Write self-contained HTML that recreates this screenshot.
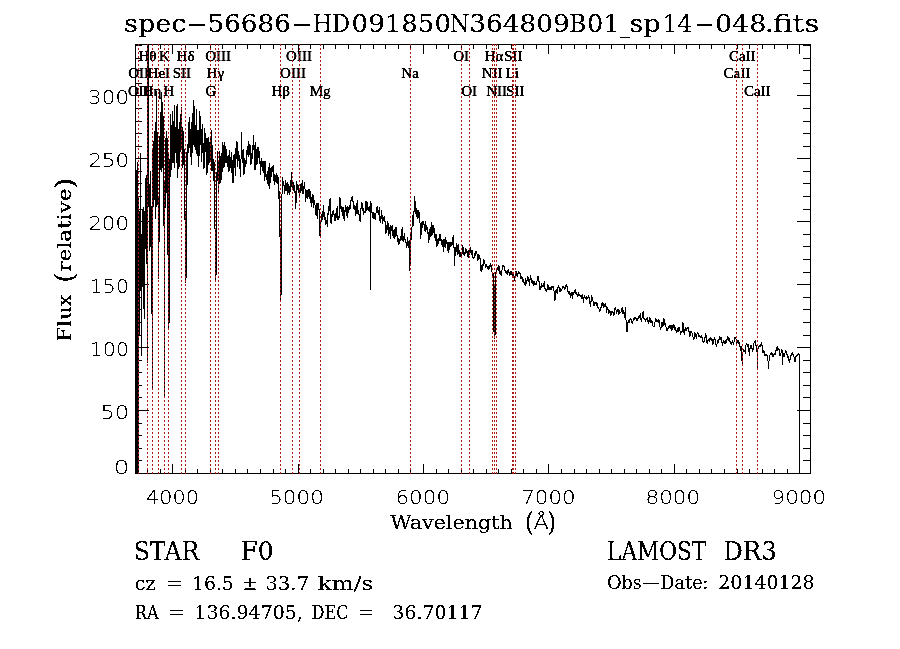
<!DOCTYPE html>
<html lang="en"><head><meta charset="utf-8"><title>spec-56686-HD091850N364809B01_sp14-048.fits</title>
<style>html,body{margin:0;padding:0;background:#fff;overflow:hidden}svg{display:block}.se{font-family:"DejaVu Serif","Liberation Serif",serif;fill:#000}.lb{font-family:"Liberation Serif","DejaVu Serif",serif;font-size:15px;fill:#000;stroke:#000;stroke-width:0.2px;text-anchor:middle}.tk{font-family:"DejaVu Sans Light","DejaVu Sans","Liberation Sans",sans-serif;font-size:19.9px;fill:#000}</style></head><body>
<svg width="900" height="649" viewBox="0 0 900 649">
<rect x="0" y="0" width="900" height="649" fill="#fff"/>
<defs><filter id="t1" filterUnits="userSpaceOnUse" x="0" y="0" width="900" height="649" color-interpolation-filters="sRGB"><feComponentTransfer><feFuncA type="discrete" tableValues="0 0 1 1 1"/></feComponentTransfer></filter><filter id="t2" filterUnits="userSpaceOnUse" x="0" y="0" width="900" height="649" color-interpolation-filters="sRGB"><feComponentTransfer><feFuncA type="linear" slope="2.6" intercept="-0.45"/></feComponentTransfer></filter><clipPath id="cp"><rect x="135" y="44" width="676" height="430"/></clipPath></defs>
<path d="M135.5 44.5H810.5V473.5H135.5ZM147.5 473v-4M147.5 45v4M160.5 473v-4M160.5 45v4M172.5 473v-9M172.5 45v9M185.5 473v-4M185.5 45v4M197.5 473v-4M197.5 45v4M210.5 473v-4M210.5 45v4M222.5 473v-4M222.5 45v4M235.5 473v-4M235.5 45v4M247.5 473v-4M247.5 45v4M260.5 473v-4M260.5 45v4M273.5 473v-4M273.5 45v4M285.5 473v-4M285.5 45v4M298.5 473v-9M298.5 45v9M310.5 473v-4M310.5 45v4M323.5 473v-4M323.5 45v4M335.5 473v-4M335.5 45v4M348.5 473v-4M348.5 45v4M360.5 473v-4M360.5 45v4M373.5 473v-4M373.5 45v4M385.5 473v-4M385.5 45v4M398.5 473v-4M398.5 45v4M410.5 473v-4M410.5 45v4M423.5 473v-9M423.5 45v9M436.5 473v-4M436.5 45v4M448.5 473v-4M448.5 45v4M461.5 473v-4M461.5 45v4M473.5 473v-4M473.5 45v4M486.5 473v-4M486.5 45v4M498.5 473v-4M498.5 45v4M511.5 473v-4M511.5 45v4M523.5 473v-4M523.5 45v4M536.5 473v-4M536.5 45v4M548.5 473v-9M548.5 45v9M561.5 473v-4M561.5 45v4M574.5 473v-4M574.5 45v4M586.5 473v-4M586.5 45v4M599.5 473v-4M599.5 45v4M611.5 473v-4M611.5 45v4M624.5 473v-4M624.5 45v4M636.5 473v-4M636.5 45v4M649.5 473v-4M649.5 45v4M661.5 473v-4M661.5 45v4M674.5 473v-9M674.5 45v9M686.5 473v-4M686.5 45v4M699.5 473v-4M699.5 45v4M711.5 473v-4M711.5 45v4M724.5 473v-4M724.5 45v4M737.5 473v-4M737.5 45v4M749.5 473v-4M749.5 45v4M762.5 473v-4M762.5 45v4M774.5 473v-4M774.5 45v4M787.5 473v-4M787.5 45v4M799.5 473v-9M799.5 45v9M136 473.5H149M810 473.5H797M136 460.5H142M810 460.5H803M136 448.5H142M810 448.5H803M136 435.5H142M810 435.5H803M136 423.5H142M810 423.5H803M136 410.5H149M810 410.5H797M136 397.5H142M810 397.5H803M136 385.5H142M810 385.5H803M136 372.5H142M810 372.5H803M136 360.5H142M810 360.5H803M136 347.5H149M810 347.5H797M136 335.5H142M810 335.5H803M136 322.5H142M810 322.5H803M136 309.5H142M810 309.5H803M136 297.5H142M810 297.5H803M136 284.5H149M810 284.5H797M136 272.5H142M810 272.5H803M136 259.5H142M810 259.5H803M136 246.5H142M810 246.5H803M136 234.5H142M810 234.5H803M136 221.5H149M810 221.5H797M136 209.5H142M810 209.5H803M136 196.5H142M810 196.5H803M136 183.5H142M810 183.5H803M136 171.5H142M810 171.5H803M136 158.5H149M810 158.5H797M136 146.5H142M810 146.5H803M136 133.5H142M810 133.5H803M136 121.5H142M810 121.5H803M136 108.5H142M810 108.5H803M136 95.5H149M810 95.5H797M136 83.5H142M810 83.5H803M136 70.5H142M810 70.5H803M136 58.5H142M810 58.5H803M136 45.5H142M810 45.5H803" fill="none" stroke="#000" stroke-width="1" shape-rendering="crispEdges"/>
<g clip-path="url(#cp)"><polyline points="135.5,473.5 135.5,289.5 135.5,460.5 135.5,184.5 135.5,473.5 135.5,228.5 135.5,443.5 135.5,245.5 135.5,473.5 136.5,208.5 136.5,470.5 136.5,191.5 136.5,473.5 136.5,312.5 136.5,458.5 136.5,169.5 136.5,473.5 136.5,296.5 137.5,458.5 137.5,256.5 137.5,473.5 137.5,279.5 137.5,444.5 137.5,195.5 137.5,473.5 137.5,331.5 137.5,458.5 137.5,162.5 138.5,473.5 138.5,303.5 138.5,281.5 138.5,197.5 138.5,319.5 138.5,223.5 138.5,343.5 138.5,287.5 138.5,321.5 139.5,214.5 139.5,210.5 139.5,308.5 139.5,255.5 139.5,294.5 139.5,252.5 139.5,301.5 139.5,335.5 139.5,333.5 140.5,234.5 140.5,152.5 140.5,238.5 140.5,275.5 140.5,173.5 140.5,250.5 140.5,261.5 140.5,261.5 140.5,283.5 141.5,298.5 141.5,349.5 141.5,285.5 141.5,311.5 141.5,269.5 141.5,316.5 141.5,355.5 141.5,292.5 141.5,234.5 141.5,281.5 142.5,285.5 142.5,286.5 142.5,276.5 142.5,255.5 142.5,276.5 142.5,209.5 142.5,254.5 142.5,244.5 142.5,210.5 143.5,207.5 143.5,250.5 143.5,237.5 143.5,230.5 143.5,260.5 143.5,308.5 143.5,256.5 143.5,260.5 143.5,280.5 144.5,318.5 144.5,298.5 144.5,300.5 144.5,281.5 144.5,228.5 144.5,210.5 144.5,221.5 144.5,218.5 144.5,211.5 145.5,228.5 145.5,230.5 145.5,248.5 145.5,235.5 145.5,177.5 145.5,211.5 145.5,239.5 145.5,238.5 145.5,244.5 146.5,209.5 146.5,204.5 146.5,247.5 146.5,196.5 146.5,223.5 146.5,174.5 146.5,215.5 146.5,181.5 146.5,257.5 147.5,269.5 147.5,267.5 147.5,258.5 147.5,283.5 147.5,362.5 147.5,-55.5 147.5,-55.5 147.5,-55.5 147.5,-55.5 147.5,-55.5 148.5,-55.5 148.5,-55.5 148.5,-55.5 148.5,-55.5 148.5,-55.5 148.5,146.5 148.5,204.5 148.5,206.5 148.5,181.5 149.5,200.5 149.5,225.5 149.5,211.5 149.5,213.5 149.5,186.5 149.5,227.5 149.5,250.5 149.5,183.5 149.5,227.5 150.5,246.5 150.5,170.5 150.5,208.5 150.5,170.5 150.5,206.5 150.5,226.5 150.5,231.5 150.5,208.5 150.5,202.5 151.5,221.5 151.5,205.5 151.5,250.5 151.5,208.5 151.5,280.5 151.5,247.5 151.5,238.5 151.5,243.5 151.5,235.5 152.5,389.5 152.5,265.5 152.5,239.5 152.5,229.5 152.5,269.5 152.5,208.5 152.5,148.5 152.5,242.5 152.5,174.5 153.5,149.5 153.5,201.5 153.5,158.5 153.5,206.5 153.5,198.5 153.5,199.5 153.5,168.5 153.5,176.5 153.5,141.5 154.5,193.5 154.5,165.5 154.5,130.5 154.5,142.5 154.5,199.5 154.5,143.5 154.5,181.5 154.5,158.5 154.5,161.5 155.5,133.5 155.5,163.5 155.5,218.5 155.5,200.5 155.5,137.5 155.5,164.5 155.5,121.5 155.5,143.5 155.5,171.5 156.5,118.5 156.5,172.5 156.5,206.5 156.5,90.5 156.5,202.5 156.5,131.5 156.5,125.5 156.5,150.5 156.5,204.5 157.5,132.5 157.5,200.5 157.5,197.5 157.5,170.5 157.5,140.5 157.5,157.5 157.5,148.5 157.5,188.5 157.5,188.5 158.5,221.5 158.5,208.5 158.5,195.5 158.5,235.5 158.5,233.5 158.5,277.5 158.5,278.5 158.5,269.5 158.5,262.5 159.5,221.5 159.5,209.5 159.5,149.5 159.5,186.5 159.5,176.5 159.5,190.5 159.5,157.5 159.5,136.5 160.5,169.5 160.5,149.5 160.5,128.5 160.5,147.5 160.5,154.5 160.5,114.5 160.5,136.5 160.5,129.5 160.5,112.5 161.5,114.5 161.5,150.5 161.5,151.5 161.5,128.5 161.5,133.5 161.5,171.5 161.5,91.5 161.5,120.5 161.5,105.5 162.5,154.5 162.5,101.5 162.5,148.5 162.5,138.5 162.5,167.5 162.5,137.5 162.5,138.5 162.5,138.5 162.5,126.5 163.5,137.5 163.5,118.5 163.5,150.5 163.5,161.5 163.5,137.5 163.5,123.5 163.5,115.5 163.5,140.5 163.5,225.5 164.5,218.5 164.5,241.5 164.5,315.5 164.5,397.5 164.5,338.5 164.5,334.5 164.5,273.5 164.5,248.5 164.5,184.5 165.5,180.5 165.5,191.5 165.5,156.5 165.5,145.5 165.5,175.5 165.5,170.5 165.5,207.5 165.5,138.5 166.5,165.5 166.5,192.5 166.5,182.5 166.5,149.5 166.5,130.5 166.5,151.5 166.5,144.5 166.5,179.5 166.5,187.5 167.5,145.5 167.5,153.5 167.5,164.5 167.5,139.5 167.5,183.5 167.5,174.5 167.5,148.5 167.5,137.5 167.5,254.5 168.5,153.5 168.5,206.5 168.5,204.5 168.5,234.5 168.5,286.5 168.5,279.5 168.5,289.5 168.5,329.5 168.5,319.5 169.5,322.5 169.5,302.5 169.5,277.5 169.5,233.5 169.5,219.5 169.5,158.5 169.5,166.5 169.5,180.5 170.5,173.5 170.5,113.5 170.5,170.5 170.5,172.5 170.5,153.5 170.5,146.5 170.5,149.5 170.5,164.5 170.5,163.5 171.5,132.5 171.5,142.5 171.5,169.5 171.5,125.5 171.5,130.5 171.5,142.5 171.5,136.5 171.5,124.5 171.5,137.5 172.5,150.5 172.5,130.5 172.5,160.5 172.5,135.5 172.5,162.5 172.5,140.5 172.5,139.5 172.5,111.5 173.5,154.5 173.5,162.5 173.5,153.5 173.5,161.5 173.5,154.5 173.5,139.5 173.5,134.5 173.5,120.5 173.5,154.5 174.5,105.5 174.5,112.5 174.5,140.5 174.5,167.5 174.5,132.5 174.5,130.5 174.5,165.5 174.5,134.5 174.5,141.5 175.5,152.5 175.5,133.5 175.5,126.5 175.5,146.5 175.5,134.5 175.5,144.5 175.5,145.5 175.5,131.5 176.5,124.5 176.5,139.5 176.5,162.5 176.5,123.5 176.5,154.5 176.5,129.5 176.5,105.5 176.5,129.5 176.5,142.5 177.5,142.5 177.5,103.5 177.5,118.5 177.5,111.5 177.5,108.5 177.5,124.5 177.5,131.5 177.5,143.5 177.5,177.5 178.5,160.5 178.5,144.5 178.5,147.5 178.5,139.5 178.5,144.5 178.5,137.5 178.5,128.5 178.5,152.5 179.5,146.5 179.5,166.5 179.5,132.5 179.5,144.5 179.5,137.5 179.5,121.5 179.5,125.5 179.5,139.5 179.5,124.5 180.5,151.5 180.5,122.5 180.5,125.5 180.5,151.5 180.5,113.5 180.5,144.5 180.5,127.5 180.5,140.5 181.5,115.5 181.5,106.5 181.5,132.5 181.5,142.5 181.5,128.5 181.5,120.5 181.5,140.5 181.5,144.5 181.5,127.5 182.5,167.5 182.5,135.5 182.5,145.5 182.5,126.5 182.5,144.5 182.5,152.5 182.5,143.5 182.5,156.5 183.5,135.5 183.5,144.5 183.5,142.5 183.5,149.5 183.5,130.5 183.5,147.5 183.5,141.5 183.5,144.5 183.5,164.5 184.5,149.5 184.5,155.5 184.5,158.5 184.5,172.5 184.5,178.5 184.5,169.5 184.5,160.5 184.5,219.5 185.5,211.5 185.5,243.5 185.5,247.5 185.5,266.5 185.5,262.5 185.5,282.5 185.5,262.5 185.5,248.5 185.5,219.5 186.5,277.5 186.5,200.5 186.5,174.5 186.5,151.5 186.5,207.5 186.5,171.5 186.5,161.5 186.5,165.5 187.5,171.5 187.5,184.5 187.5,177.5 187.5,152.5 187.5,143.5 187.5,151.5 187.5,160.5 187.5,147.5 188.5,150.5 188.5,136.5 188.5,137.5 188.5,143.5 188.5,131.5 188.5,148.5 188.5,124.5 188.5,121.5 188.5,152.5 189.5,131.5 189.5,147.5 189.5,118.5 189.5,118.5 189.5,131.5 189.5,116.5 189.5,135.5 189.5,140.5 190.5,142.5 190.5,138.5 190.5,142.5 190.5,136.5 190.5,146.5 190.5,130.5 190.5,128.5 190.5,149.5 191.5,163.5 191.5,137.5 191.5,132.5 191.5,146.5 191.5,158.5 191.5,137.5 191.5,121.5 191.5,164.5 191.5,137.5 192.5,146.5 192.5,152.5 192.5,133.5 192.5,151.5 192.5,128.5 192.5,112.5 192.5,124.5 192.5,135.5 193.5,144.5 193.5,136.5 193.5,141.5 193.5,99.5 193.5,121.5 193.5,132.5 193.5,138.5 193.5,138.5 194.5,130.5 194.5,141.5 194.5,105.5 194.5,134.5 194.5,136.5 194.5,125.5 194.5,116.5 194.5,122.5 194.5,146.5 195.5,140.5 195.5,143.5 195.5,138.5 195.5,139.5 195.5,149.5 195.5,148.5 195.5,127.5 195.5,140.5 196.5,109.5 196.5,125.5 196.5,140.5 196.5,135.5 196.5,140.5 196.5,137.5 196.5,125.5 196.5,151.5 197.5,155.5 197.5,130.5 197.5,136.5 197.5,134.5 197.5,131.5 197.5,139.5 197.5,129.5 197.5,152.5 197.5,143.5 198.5,155.5 198.5,160.5 198.5,140.5 198.5,139.5 198.5,166.5 198.5,155.5 198.5,139.5 198.5,130.5 199.5,149.5 199.5,142.5 199.5,155.5 199.5,110.5 199.5,133.5 199.5,128.5 199.5,130.5 199.5,125.5 200.5,126.5 200.5,133.5 200.5,119.5 200.5,126.5 200.5,115.5 200.5,141.5 200.5,144.5 200.5,137.5 201.5,135.5 201.5,151.5 201.5,161.5 201.5,153.5 201.5,156.5 201.5,128.5 201.5,137.5 201.5,131.5 202.5,139.5 202.5,146.5 202.5,127.5 202.5,123.5 202.5,137.5 202.5,146.5 202.5,136.5 202.5,152.5 202.5,141.5 203.5,161.5 203.5,168.5 203.5,156.5 203.5,160.5 203.5,142.5 203.5,162.5 203.5,154.5 203.5,163.5 204.5,167.5 204.5,165.5 204.5,140.5 204.5,158.5 204.5,134.5 204.5,131.5 204.5,149.5 204.5,128.5 205.5,142.5 205.5,132.5 205.5,146.5 205.5,133.5 205.5,151.5 205.5,133.5 205.5,144.5 205.5,142.5 206.5,138.5 206.5,148.5 206.5,156.5 206.5,151.5 206.5,151.5 206.5,174.5 206.5,153.5 206.5,151.5 207.5,165.5 207.5,154.5 207.5,172.5 207.5,142.5 207.5,157.5 207.5,152.5 207.5,137.5 207.5,152.5 208.5,146.5 208.5,163.5 208.5,158.5 208.5,164.5 208.5,150.5 208.5,136.5 208.5,145.5 208.5,141.5 209.5,162.5 209.5,161.5 209.5,155.5 209.5,141.5 209.5,142.5 209.5,147.5 209.5,144.5 209.5,154.5 210.5,153.5 210.5,139.5 210.5,156.5 210.5,148.5 210.5,135.5 210.5,153.5 210.5,147.5 210.5,159.5 211.5,130.5 211.5,170.5 211.5,157.5 211.5,156.5 211.5,129.5 211.5,142.5 211.5,149.5 211.5,160.5 212.5,145.5 212.5,150.5 212.5,160.5 212.5,170.5 212.5,168.5 212.5,157.5 212.5,158.5 212.5,161.5 213.5,163.5 213.5,180.5 213.5,164.5 213.5,176.5 213.5,168.5 213.5,165.5 213.5,177.5 213.5,179.5 213.5,159.5 214.5,165.5 214.5,176.5 214.5,201.5 214.5,177.5 214.5,178.5 214.5,185.5 214.5,218.5 215.5,238.5 215.5,257.5 215.5,261.5 215.5,279.5 215.5,270.5 215.5,263.5 215.5,233.5 215.5,233.5 216.5,274.5 216.5,200.5 216.5,192.5 216.5,181.5 216.5,173.5 216.5,198.5 216.5,171.5 216.5,174.5 217.5,180.5 217.5,162.5 217.5,172.5 217.5,160.5 217.5,176.5 217.5,178.5 217.5,159.5 217.5,151.5 218.5,167.5 218.5,167.5 218.5,183.5 218.5,192.5 218.5,183.5 218.5,165.5 218.5,192.5 218.5,175.5 219.5,183.5 219.5,162.5 219.5,153.5 219.5,171.5 219.5,164.5 219.5,150.5 219.5,163.5 219.5,174.5 220.5,175.5 220.5,182.5 220.5,158.5 220.5,171.5 220.5,155.5 220.5,156.5 220.5,168.5 220.5,167.5 221.5,156.5 221.5,161.5 221.5,160.5 221.5,175.5 221.5,152.5 221.5,167.5 221.5,179.5 221.5,166.5 222.5,158.5 222.5,145.5 222.5,164.5 222.5,171.5 222.5,141.5 222.5,156.5 222.5,158.5 222.5,164.5 223.5,163.5 223.5,144.5 223.5,159.5 223.5,163.5 223.5,164.5 223.5,149.5 223.5,167.5 223.5,158.5 224.5,161.5 224.5,160.5 224.5,166.5 224.5,151.5 224.5,141.5 224.5,151.5 224.5,156.5 224.5,159.5 225.5,150.5 225.5,154.5 225.5,153.5 225.5,152.5 225.5,162.5 225.5,145.5 225.5,149.5 226.5,153.5 226.5,153.5 226.5,150.5 226.5,157.5 226.5,162.5 226.5,148.5 226.5,158.5 226.5,159.5 227.5,165.5 227.5,155.5 227.5,163.5 227.5,161.5 227.5,156.5 227.5,161.5 227.5,157.5 227.5,163.5 228.5,169.5 228.5,169.5 228.5,171.5 228.5,164.5 228.5,166.5 228.5,165.5 228.5,154.5 228.5,156.5 229.5,157.5 229.5,161.5 229.5,149.5 229.5,152.5 229.5,157.5 229.5,164.5 229.5,170.5 229.5,169.5 230.5,166.5 230.5,166.5 230.5,163.5 230.5,162.5 230.5,156.5 230.5,157.5 230.5,162.5 231.5,152.5 231.5,152.5 231.5,152.5 231.5,158.5 231.5,159.5 231.5,165.5 231.5,155.5 231.5,172.5 232.5,163.5 232.5,164.5 232.5,159.5 232.5,167.5 232.5,176.5 232.5,182.5 232.5,181.5 232.5,179.5 233.5,181.5 233.5,182.5 233.5,182.5 233.5,176.5 233.5,165.5 233.5,173.5 233.5,164.5 233.5,155.5 234.5,161.5 234.5,167.5 234.5,160.5 234.5,167.5 234.5,163.5 234.5,155.5 234.5,154.5 235.5,175.5 235.5,161.5 235.5,152.5 235.5,163.5 235.5,156.5 235.5,147.5 235.5,156.5 235.5,148.5 236.5,149.5 236.5,158.5 236.5,146.5 236.5,150.5 236.5,145.5 236.5,140.5 236.5,147.5 236.5,151.5 237.5,145.5 237.5,145.5 237.5,141.5 237.5,156.5 237.5,158.5 237.5,166.5 237.5,152.5 238.5,155.5 238.5,157.5 238.5,156.5 238.5,155.5 238.5,158.5 238.5,157.5 238.5,160.5 238.5,151.5 239.5,158.5 239.5,165.5 239.5,164.5 239.5,155.5 239.5,161.5 239.5,164.5 239.5,164.5 239.5,161.5 240.5,176.5 240.5,172.5 240.5,175.5 240.5,160.5 240.5,163.5 240.5,164.5 240.5,164.5 241.5,154.5 241.5,155.5 241.5,152.5 241.5,139.5 241.5,149.5 241.5,150.5 241.5,131.5 241.5,149.5 242.5,151.5 242.5,154.5 242.5,153.5 242.5,151.5 242.5,154.5 242.5,155.5 242.5,158.5 242.5,162.5 243.5,152.5 243.5,148.5 243.5,156.5 243.5,168.5 243.5,166.5 243.5,174.5 243.5,170.5 244.5,173.5 244.5,165.5 244.5,162.5 244.5,164.5 244.5,161.5 244.5,157.5 244.5,160.5 244.5,167.5 245.5,166.5 245.5,163.5 245.5,164.5 245.5,160.5 245.5,160.5 245.5,162.5 245.5,161.5 246.5,159.5 246.5,158.5 246.5,161.5 246.5,149.5 246.5,153.5 246.5,163.5 246.5,162.5 246.5,158.5 247.5,152.5 247.5,145.5 247.5,146.5 247.5,148.5 247.5,150.5 247.5,150.5 247.5,149.5 248.5,148.5 248.5,148.5 248.5,155.5 248.5,147.5 248.5,140.5 248.5,154.5 248.5,156.5 248.5,148.5 249.5,152.5 249.5,154.5 249.5,143.5 249.5,146.5 249.5,144.5 249.5,150.5 249.5,144.5 250.5,146.5 250.5,145.5 250.5,146.5 250.5,148.5 250.5,155.5 250.5,154.5 250.5,164.5 250.5,157.5 251.5,157.5 251.5,163.5 251.5,163.5 251.5,158.5 251.5,162.5 251.5,153.5 251.5,153.5 252.5,158.5 252.5,153.5 252.5,147.5 252.5,145.5 252.5,144.5 252.5,148.5 252.5,149.5 252.5,149.5 253.5,144.5 253.5,134.5 253.5,137.5 253.5,134.5 253.5,134.5 253.5,149.5 253.5,145.5 254.5,149.5 254.5,144.5 254.5,146.5 254.5,160.5 254.5,158.5 254.5,158.5 254.5,166.5 254.5,169.5 255.5,169.5 255.5,159.5 255.5,164.5 255.5,150.5 255.5,151.5 255.5,145.5 255.5,142.5 256.5,155.5 256.5,159.5 256.5,156.5 256.5,164.5 256.5,162.5 256.5,156.5 256.5,152.5 256.5,157.5 257.5,152.5 257.5,148.5 257.5,146.5 257.5,163.5 257.5,149.5 257.5,151.5 257.5,158.5 258.5,157.5 258.5,146.5 258.5,150.5 258.5,148.5 258.5,147.5 258.5,156.5 258.5,155.5 259.5,154.5 259.5,153.5 259.5,150.5 259.5,152.5 259.5,159.5 259.5,163.5 259.5,152.5 259.5,162.5 260.5,165.5 260.5,174.5 260.5,167.5 260.5,174.5 260.5,170.5 260.5,171.5 260.5,164.5 261.5,158.5 261.5,163.5 261.5,160.5 261.5,157.5 261.5,163.5 261.5,164.5 261.5,164.5 262.5,169.5 262.5,162.5 262.5,169.5 262.5,161.5 262.5,160.5 262.5,170.5 262.5,166.5 262.5,169.5 263.5,172.5 263.5,168.5 263.5,166.5 263.5,161.5 263.5,160.5 263.5,170.5 263.5,168.5 264.5,166.5 264.5,164.5 264.5,180.5 264.5,164.5 264.5,169.5 264.5,160.5 264.5,166.5 265.5,168.5 265.5,164.5 265.5,160.5 265.5,165.5 265.5,176.5 265.5,163.5 265.5,174.5 265.5,173.5 266.5,175.5 266.5,179.5 266.5,176.5 266.5,174.5 266.5,173.5 266.5,173.5 266.5,176.5 267.5,183.5 267.5,177.5 267.5,172.5 267.5,171.5 267.5,174.5 267.5,173.5 267.5,172.5 268.5,170.5 268.5,168.5 268.5,176.5 268.5,174.5 268.5,166.5 268.5,167.5 268.5,168.5 268.5,185.5 269.5,176.5 269.5,188.5 269.5,170.5 269.5,171.5 269.5,170.5 269.5,169.5 269.5,163.5 270.5,171.5 270.5,168.5 270.5,172.5 270.5,176.5 270.5,177.5 270.5,178.5 270.5,182.5 271.5,172.5 271.5,170.5 271.5,172.5 271.5,168.5 271.5,166.5 271.5,174.5 271.5,168.5 272.5,169.5 272.5,170.5 272.5,165.5 272.5,171.5 272.5,170.5 272.5,168.5 272.5,169.5 272.5,170.5 273.5,165.5 273.5,178.5 273.5,175.5 273.5,180.5 273.5,173.5 273.5,170.5 273.5,171.5 274.5,180.5 274.5,180.5 274.5,176.5 274.5,182.5 274.5,178.5 274.5,184.5 274.5,174.5 275.5,175.5 275.5,176.5 275.5,181.5 275.5,178.5 275.5,176.5 275.5,176.5 275.5,178.5 276.5,180.5 276.5,178.5 276.5,172.5 276.5,182.5 276.5,177.5 276.5,176.5 276.5,173.5 277.5,180.5 277.5,174.5 277.5,179.5 277.5,181.5 277.5,183.5 277.5,180.5 277.5,179.5 278.5,177.5 278.5,181.5 278.5,177.5 278.5,186.5 278.5,179.5 278.5,198.5 278.5,192.5 278.5,196.5 279.5,191.5 279.5,202.5 279.5,192.5 279.5,208.5 279.5,199.5 279.5,210.5 279.5,236.5 280.5,230.5 280.5,243.5 280.5,270.5 280.5,299.5 280.5,301.5 280.5,299.5 280.5,286.5 281.5,294.5 281.5,234.5 281.5,211.5 281.5,201.5 281.5,199.5 281.5,193.5 281.5,197.5 282.5,191.5 282.5,190.5 282.5,186.5 282.5,176.5 282.5,180.5 282.5,183.5 282.5,180.5 283.5,182.5 283.5,180.5 283.5,180.5 283.5,180.5 283.5,181.5 283.5,185.5 283.5,184.5 284.5,185.5 284.5,193.5 284.5,192.5 284.5,191.5 284.5,186.5 284.5,184.5 284.5,188.5 285.5,185.5 285.5,190.5 285.5,189.5 285.5,184.5 285.5,181.5 285.5,179.5 285.5,183.5 286.5,187.5 286.5,182.5 286.5,185.5 286.5,185.5 286.5,188.5 286.5,189.5 286.5,190.5 287.5,190.5 287.5,194.5 287.5,187.5 287.5,190.5 287.5,187.5 287.5,181.5 287.5,187.5 288.5,192.5 288.5,183.5 288.5,184.5 288.5,183.5 288.5,185.5 288.5,184.5 288.5,187.5 288.5,191.5 289.5,186.5 289.5,193.5 289.5,194.5 289.5,194.5 289.5,186.5 289.5,188.5 289.5,191.5 290.5,188.5 290.5,186.5 290.5,184.5 290.5,191.5 290.5,181.5 290.5,182.5 290.5,181.5 291.5,178.5 291.5,174.5 291.5,171.5 291.5,178.5 291.5,180.5 291.5,186.5 291.5,183.5 292.5,182.5 292.5,188.5 292.5,184.5 292.5,179.5 292.5,188.5 292.5,185.5 292.5,183.5 293.5,190.5 293.5,186.5 293.5,184.5 293.5,181.5 293.5,188.5 293.5,183.5 293.5,187.5 294.5,185.5 294.5,186.5 294.5,188.5 294.5,187.5 294.5,192.5 294.5,190.5 295.5,191.5 295.5,191.5 295.5,191.5 295.5,204.5 295.5,203.5 295.5,207.5 295.5,208.5 296.5,197.5 296.5,198.5 296.5,192.5 296.5,191.5 296.5,194.5 296.5,194.5 296.5,181.5 297.5,187.5 297.5,189.5 297.5,184.5 297.5,186.5 297.5,188.5 297.5,186.5 297.5,184.5 298.5,185.5 298.5,185.5 298.5,190.5 298.5,192.5 298.5,189.5 298.5,189.5 298.5,186.5 299.5,189.5 299.5,190.5 299.5,194.5 299.5,189.5 299.5,197.5 299.5,191.5 299.5,192.5 300.5,186.5 300.5,184.5 300.5,190.5 300.5,187.5 300.5,192.5 300.5,183.5 300.5,188.5 301.5,190.5 301.5,188.5 301.5,183.5 301.5,183.5 301.5,184.5 301.5,189.5 301.5,186.5 302.5,180.5 302.5,185.5 302.5,185.5 302.5,189.5 302.5,193.5 302.5,189.5 302.5,192.5 303.5,193.5 303.5,192.5 303.5,190.5 303.5,187.5 303.5,190.5 303.5,190.5 303.5,189.5 304.5,182.5 304.5,184.5 304.5,185.5 304.5,181.5 304.5,182.5 304.5,182.5 304.5,185.5 305.5,192.5 305.5,196.5 305.5,198.5 305.5,201.5 305.5,198.5 305.5,195.5 306.5,194.5 306.5,197.5 306.5,195.5 306.5,189.5 306.5,196.5 306.5,193.5 306.5,194.5 307.5,197.5 307.5,198.5 307.5,195.5 307.5,196.5 307.5,192.5 307.5,189.5 307.5,190.5 308.5,189.5 308.5,190.5 308.5,194.5 308.5,192.5 308.5,194.5 308.5,196.5 308.5,193.5 309.5,193.5 309.5,194.5 309.5,198.5 309.5,190.5 309.5,189.5 309.5,188.5 309.5,189.5 310.5,193.5 310.5,191.5 310.5,195.5 310.5,190.5 310.5,199.5 310.5,199.5 311.5,206.5 311.5,206.5 311.5,204.5 311.5,199.5 311.5,197.5 311.5,196.5 311.5,201.5 312.5,194.5 312.5,200.5 312.5,193.5 312.5,193.5 312.5,195.5 312.5,195.5 312.5,202.5 313.5,195.5 313.5,203.5 313.5,202.5 313.5,207.5 313.5,204.5 313.5,206.5 313.5,203.5 314.5,201.5 314.5,201.5 314.5,199.5 314.5,201.5 314.5,202.5 314.5,204.5 314.5,200.5 315.5,208.5 315.5,205.5 315.5,214.5 315.5,213.5 315.5,211.5 315.5,214.5 316.5,206.5 316.5,207.5 316.5,215.5 316.5,212.5 316.5,207.5 316.5,202.5 316.5,204.5 317.5,208.5 317.5,214.5 317.5,214.5 317.5,218.5 317.5,213.5 317.5,206.5 317.5,203.5 318.5,206.5 318.5,204.5 318.5,202.5 318.5,207.5 318.5,209.5 318.5,208.5 319.5,210.5 319.5,214.5 319.5,219.5 319.5,223.5 319.5,226.5 319.5,233.5 319.5,233.5 320.5,237.5 320.5,237.5 320.5,234.5 320.5,231.5 320.5,228.5 320.5,226.5 320.5,225.5 321.5,217.5 321.5,221.5 321.5,219.5 321.5,218.5 321.5,215.5 321.5,215.5 322.5,213.5 322.5,216.5 322.5,219.5 322.5,215.5 322.5,214.5 322.5,215.5 322.5,213.5 323.5,209.5 323.5,204.5 323.5,206.5 323.5,210.5 323.5,210.5 323.5,211.5 323.5,216.5 324.5,212.5 324.5,217.5 324.5,215.5 324.5,217.5 324.5,219.5 324.5,215.5 325.5,219.5 325.5,219.5 325.5,218.5 325.5,218.5 325.5,221.5 325.5,224.5 325.5,221.5 326.5,221.5 326.5,219.5 326.5,223.5 326.5,222.5 326.5,222.5 326.5,223.5 326.5,220.5 327.5,220.5 327.5,226.5 327.5,226.5 327.5,225.5 327.5,215.5 327.5,215.5 328.5,210.5 328.5,211.5 328.5,209.5 328.5,210.5 328.5,214.5 328.5,208.5 328.5,206.5 329.5,210.5 329.5,205.5 329.5,205.5 329.5,204.5 329.5,201.5 329.5,204.5 329.5,199.5 330.5,198.5 330.5,207.5 330.5,210.5 330.5,212.5 330.5,219.5 330.5,222.5 331.5,223.5 331.5,220.5 331.5,219.5 331.5,216.5 331.5,219.5 331.5,213.5 331.5,216.5 332.5,214.5 332.5,216.5 332.5,216.5 332.5,213.5 332.5,213.5 332.5,211.5 333.5,210.5 333.5,210.5 333.5,212.5 333.5,213.5 333.5,213.5 333.5,211.5 333.5,212.5 334.5,216.5 334.5,217.5 334.5,219.5 334.5,216.5 334.5,213.5 334.5,220.5 335.5,213.5 335.5,214.5 335.5,217.5 335.5,212.5 335.5,215.5 335.5,215.5 335.5,220.5 336.5,214.5 336.5,217.5 336.5,216.5 336.5,210.5 336.5,211.5 336.5,209.5 337.5,207.5 337.5,213.5 337.5,205.5 337.5,210.5 337.5,211.5 337.5,213.5 337.5,219.5 338.5,217.5 338.5,216.5 338.5,217.5 338.5,215.5 338.5,219.5 338.5,218.5 339.5,217.5 339.5,211.5 339.5,200.5 339.5,204.5 339.5,202.5 339.5,200.5 339.5,197.5 340.5,198.5 340.5,202.5 340.5,198.5 340.5,201.5 340.5,200.5 340.5,208.5 341.5,209.5 341.5,206.5 341.5,211.5 341.5,206.5 341.5,205.5 341.5,205.5 341.5,206.5 342.5,209.5 342.5,212.5 342.5,215.5 342.5,213.5 342.5,206.5 342.5,208.5 343.5,207.5 343.5,207.5 343.5,211.5 343.5,210.5 343.5,213.5 343.5,212.5 343.5,216.5 344.5,220.5 344.5,216.5 344.5,213.5 344.5,209.5 344.5,211.5 344.5,213.5 345.5,210.5 345.5,209.5 345.5,206.5 345.5,206.5 345.5,208.5 345.5,204.5 345.5,206.5 346.5,208.5 346.5,209.5 346.5,207.5 346.5,212.5 346.5,215.5 346.5,213.5 347.5,217.5 347.5,210.5 347.5,210.5 347.5,209.5 347.5,207.5 347.5,205.5 347.5,212.5 348.5,210.5 348.5,211.5 348.5,212.5 348.5,206.5 348.5,208.5 348.5,209.5 349.5,209.5 349.5,209.5 349.5,207.5 349.5,209.5 349.5,204.5 349.5,207.5 350.5,208.5 350.5,207.5 350.5,203.5 350.5,206.5 350.5,206.5 350.5,203.5 350.5,200.5 351.5,200.5 351.5,199.5 351.5,198.5 351.5,200.5 351.5,196.5 351.5,199.5 352.5,196.5 352.5,199.5 352.5,201.5 352.5,201.5 352.5,201.5 352.5,201.5 352.5,200.5 353.5,202.5 353.5,204.5 353.5,202.5 353.5,202.5 353.5,204.5 353.5,208.5 354.5,207.5 354.5,209.5 354.5,207.5 354.5,209.5 354.5,208.5 354.5,205.5 355.5,207.5 355.5,205.5 355.5,210.5 355.5,211.5 355.5,211.5 355.5,212.5 355.5,215.5 356.5,212.5 356.5,213.5 356.5,207.5 356.5,205.5 356.5,207.5 356.5,203.5 357.5,203.5 357.5,199.5 357.5,201.5 357.5,201.5 357.5,203.5 357.5,213.5 358.5,214.5 358.5,212.5 358.5,212.5 358.5,209.5 358.5,210.5 358.5,214.5 358.5,212.5 359.5,215.5 359.5,215.5 359.5,215.5 359.5,214.5 359.5,218.5 359.5,219.5 360.5,221.5 360.5,212.5 360.5,216.5 360.5,213.5 360.5,212.5 360.5,209.5 361.5,207.5 361.5,204.5 361.5,204.5 361.5,203.5 361.5,204.5 361.5,203.5 361.5,202.5 362.5,205.5 362.5,205.5 362.5,210.5 362.5,205.5 362.5,205.5 362.5,203.5 363.5,212.5 363.5,208.5 363.5,210.5 363.5,212.5 363.5,214.5 363.5,213.5 364.5,212.5 364.5,211.5 364.5,211.5 364.5,210.5 364.5,211.5 364.5,211.5 365.5,212.5 365.5,212.5 365.5,203.5 365.5,205.5 365.5,200.5 365.5,202.5 365.5,202.5 366.5,207.5 366.5,207.5 366.5,210.5 366.5,210.5 366.5,205.5 366.5,201.5 367.5,202.5 367.5,202.5 367.5,205.5 367.5,205.5 367.5,206.5 367.5,209.5 368.5,207.5 368.5,209.5 368.5,208.5 368.5,209.5 368.5,210.5 368.5,209.5 369.5,209.5 369.5,208.5 369.5,210.5 369.5,208.5 369.5,207.5 369.5,211.5 369.5,206.5 370.5,207.5 370.5,234.5 370.5,289.5 370.5,203.5 370.5,205.5 370.5,201.5 371.5,204.5 371.5,209.5 371.5,205.5 371.5,209.5 371.5,211.5 371.5,212.5 372.5,213.5 372.5,212.5 372.5,211.5 372.5,212.5 372.5,215.5 372.5,217.5 373.5,216.5 373.5,213.5 373.5,212.5 373.5,211.5 373.5,218.5 373.5,216.5 374.5,218.5 374.5,218.5 374.5,215.5 374.5,213.5 374.5,212.5 374.5,213.5 375.5,213.5 375.5,214.5 375.5,215.5 375.5,219.5 375.5,219.5 375.5,216.5 375.5,215.5 376.5,210.5 376.5,212.5 376.5,209.5 376.5,211.5 376.5,209.5 376.5,208.5 377.5,206.5 377.5,210.5 377.5,208.5 377.5,212.5 377.5,211.5 377.5,210.5 378.5,211.5 378.5,210.5 378.5,210.5 378.5,214.5 378.5,210.5 378.5,213.5 379.5,207.5 379.5,210.5 379.5,212.5 379.5,215.5 379.5,217.5 379.5,219.5 380.5,222.5 380.5,220.5 380.5,221.5 380.5,218.5 380.5,219.5 380.5,216.5 381.5,218.5 381.5,209.5 381.5,218.5 381.5,217.5 381.5,215.5 381.5,213.5 382.5,217.5 382.5,219.5 382.5,220.5 382.5,222.5 382.5,223.5 382.5,222.5 382.5,219.5 383.5,217.5 383.5,220.5 383.5,218.5 383.5,218.5 383.5,217.5 383.5,219.5 384.5,219.5 384.5,215.5 384.5,215.5 384.5,220.5 384.5,217.5 384.5,219.5 385.5,223.5 385.5,225.5 385.5,224.5 385.5,225.5 385.5,226.5 385.5,233.5 386.5,225.5 386.5,225.5 386.5,230.5 386.5,232.5 386.5,230.5 386.5,230.5 387.5,229.5 387.5,229.5 387.5,229.5 387.5,229.5 387.5,222.5 387.5,221.5 388.5,225.5 388.5,226.5 388.5,229.5 388.5,232.5 388.5,235.5 388.5,231.5 389.5,233.5 389.5,226.5 389.5,228.5 389.5,226.5 389.5,230.5 389.5,231.5 390.5,236.5 390.5,236.5 390.5,238.5 390.5,235.5 390.5,228.5 390.5,225.5 391.5,226.5 391.5,225.5 391.5,229.5 391.5,228.5 391.5,230.5 391.5,230.5 392.5,225.5 392.5,230.5 392.5,230.5 392.5,230.5 392.5,233.5 392.5,235.5 393.5,233.5 393.5,232.5 393.5,237.5 393.5,229.5 393.5,229.5 393.5,230.5 394.5,229.5 394.5,235.5 394.5,235.5 394.5,238.5 394.5,237.5 394.5,234.5 395.5,236.5 395.5,234.5 395.5,235.5 395.5,233.5 395.5,228.5 395.5,227.5 396.5,230.5 396.5,232.5 396.5,226.5 396.5,233.5 396.5,235.5 396.5,233.5 397.5,236.5 397.5,236.5 397.5,235.5 397.5,237.5 397.5,241.5 397.5,239.5 398.5,243.5 398.5,244.5 398.5,243.5 398.5,242.5 398.5,239.5 398.5,238.5 399.5,240.5 399.5,238.5 399.5,241.5 399.5,243.5 399.5,242.5 399.5,239.5 400.5,240.5 400.5,237.5 400.5,235.5 400.5,238.5 400.5,239.5 400.5,240.5 401.5,238.5 401.5,236.5 401.5,234.5 401.5,239.5 401.5,232.5 401.5,231.5 402.5,227.5 402.5,233.5 402.5,236.5 402.5,240.5 402.5,238.5 402.5,239.5 403.5,239.5 403.5,239.5 403.5,241.5 403.5,239.5 403.5,238.5 403.5,236.5 404.5,236.5 404.5,232.5 404.5,232.5 404.5,237.5 404.5,235.5 404.5,239.5 405.5,240.5 405.5,240.5 405.5,242.5 405.5,239.5 405.5,238.5 405.5,241.5 406.5,243.5 406.5,243.5 406.5,244.5 406.5,244.5 406.5,247.5 406.5,244.5 407.5,245.5 407.5,241.5 407.5,238.5 407.5,236.5 407.5,240.5 408.5,242.5 408.5,244.5 408.5,243.5 408.5,246.5 408.5,247.5 408.5,244.5 409.5,244.5 409.5,240.5 409.5,239.5 409.5,248.5 409.5,253.5 409.5,270.5 410.5,259.5 410.5,257.5 410.5,252.5 410.5,247.5 410.5,231.5 410.5,240.5 411.5,238.5 411.5,232.5 411.5,229.5 411.5,228.5 411.5,228.5 411.5,230.5 412.5,223.5 412.5,223.5 412.5,226.5 412.5,214.5 412.5,221.5 412.5,216.5 413.5,225.5 413.5,223.5 413.5,220.5 413.5,218.5 413.5,210.5 413.5,216.5 414.5,207.5 414.5,210.5 414.5,203.5 414.5,203.5 414.5,205.5 414.5,196.5 415.5,204.5 415.5,203.5 415.5,213.5 415.5,204.5 415.5,209.5 416.5,208.5 416.5,207.5 416.5,208.5 416.5,216.5 416.5,209.5 416.5,213.5 417.5,213.5 417.5,211.5 417.5,209.5 417.5,216.5 417.5,216.5 417.5,218.5 418.5,217.5 418.5,216.5 418.5,217.5 418.5,215.5 418.5,213.5 418.5,210.5 419.5,214.5 419.5,212.5 419.5,222.5 419.5,217.5 419.5,217.5 419.5,218.5 420.5,227.5 420.5,233.5 420.5,238.5 420.5,235.5 420.5,228.5 421.5,233.5 421.5,234.5 421.5,227.5 421.5,225.5 421.5,222.5 421.5,222.5 422.5,225.5 422.5,223.5 422.5,220.5 422.5,222.5 422.5,220.5 422.5,227.5 423.5,221.5 423.5,224.5 423.5,223.5 423.5,220.5 423.5,224.5 423.5,223.5 424.5,224.5 424.5,226.5 424.5,227.5 424.5,226.5 424.5,228.5 424.5,230.5 425.5,221.5 425.5,227.5 425.5,225.5 425.5,228.5 425.5,231.5 426.5,227.5 426.5,225.5 426.5,224.5 426.5,227.5 426.5,226.5 426.5,227.5 427.5,229.5 427.5,232.5 427.5,231.5 427.5,231.5 427.5,233.5 427.5,227.5 428.5,235.5 428.5,233.5 428.5,234.5 428.5,242.5 428.5,235.5 429.5,239.5 429.5,237.5 429.5,237.5 429.5,238.5 429.5,232.5 429.5,230.5 430.5,227.5 430.5,229.5 430.5,236.5 430.5,230.5 430.5,232.5 430.5,232.5 431.5,233.5 431.5,235.5 431.5,230.5 431.5,231.5 431.5,221.5 431.5,229.5 432.5,231.5 432.5,228.5 432.5,224.5 432.5,229.5 432.5,234.5 433.5,225.5 433.5,228.5 433.5,231.5 433.5,228.5 433.5,232.5 433.5,232.5 434.5,228.5 434.5,233.5 434.5,232.5 434.5,235.5 434.5,233.5 434.5,235.5 435.5,240.5 435.5,233.5 435.5,236.5 435.5,233.5 435.5,236.5 436.5,234.5 436.5,240.5 436.5,246.5 436.5,244.5 436.5,243.5 436.5,245.5 437.5,245.5 437.5,239.5 437.5,242.5 437.5,238.5 437.5,240.5 437.5,244.5 438.5,242.5 438.5,239.5 438.5,237.5 438.5,238.5 438.5,239.5 439.5,239.5 439.5,238.5 439.5,240.5 439.5,239.5 439.5,233.5 439.5,237.5 440.5,240.5 440.5,238.5 440.5,233.5 440.5,235.5 440.5,236.5 440.5,239.5 441.5,241.5 441.5,238.5 441.5,239.5 441.5,244.5 441.5,244.5 442.5,240.5 442.5,245.5 442.5,244.5 442.5,240.5 442.5,241.5 442.5,245.5 443.5,247.5 443.5,249.5 443.5,250.5 443.5,251.5 443.5,241.5 443.5,239.5 444.5,239.5 444.5,243.5 444.5,240.5 444.5,246.5 444.5,242.5 445.5,247.5 445.5,241.5 445.5,238.5 445.5,240.5 445.5,236.5 445.5,240.5 446.5,240.5 446.5,242.5 446.5,241.5 446.5,243.5 446.5,242.5 447.5,242.5 447.5,246.5 447.5,250.5 447.5,246.5 447.5,244.5 447.5,246.5 448.5,246.5 448.5,244.5 448.5,243.5 448.5,252.5 448.5,242.5 448.5,242.5 449.5,242.5 449.5,244.5 449.5,242.5 449.5,243.5 449.5,249.5 450.5,244.5 450.5,246.5 450.5,241.5 450.5,242.5 450.5,243.5 450.5,243.5 451.5,242.5 451.5,243.5 451.5,241.5 451.5,244.5 451.5,245.5 452.5,243.5 452.5,244.5 452.5,242.5 452.5,238.5 452.5,241.5 452.5,239.5 453.5,235.5 453.5,238.5 453.5,238.5 453.5,242.5 453.5,245.5 454.5,249.5 454.5,251.5 454.5,259.5 454.5,265.5 454.5,259.5 454.5,255.5 455.5,252.5 455.5,255.5 455.5,251.5 455.5,246.5 455.5,252.5 455.5,249.5 456.5,250.5 456.5,251.5 456.5,248.5 456.5,244.5 456.5,243.5 457.5,248.5 457.5,248.5 457.5,250.5 457.5,254.5 457.5,248.5 457.5,245.5 458.5,244.5 458.5,249.5 458.5,246.5 458.5,249.5 458.5,253.5 459.5,253.5 459.5,254.5 459.5,252.5 459.5,249.5 459.5,255.5 459.5,256.5 460.5,252.5 460.5,253.5 460.5,256.5 460.5,254.5 460.5,254.5 461.5,255.5 461.5,254.5 461.5,254.5 461.5,256.5 461.5,255.5 461.5,256.5 462.5,251.5 462.5,249.5 462.5,251.5 462.5,251.5 462.5,245.5 463.5,248.5 463.5,252.5 463.5,254.5 463.5,251.5 463.5,249.5 463.5,253.5 464.5,253.5 464.5,254.5 464.5,252.5 464.5,251.5 464.5,255.5 465.5,252.5 465.5,251.5 465.5,251.5 465.5,252.5 465.5,248.5 466.5,250.5 466.5,250.5 466.5,249.5 466.5,252.5 466.5,250.5 466.5,252.5 467.5,252.5 467.5,251.5 467.5,253.5 467.5,256.5 467.5,251.5 468.5,254.5 468.5,256.5 468.5,257.5 468.5,253.5 468.5,251.5 468.5,250.5 469.5,250.5 469.5,253.5 469.5,250.5 469.5,254.5 469.5,251.5 470.5,249.5 470.5,252.5 470.5,251.5 470.5,250.5 470.5,250.5 470.5,247.5 471.5,253.5 471.5,249.5 471.5,254.5 471.5,252.5 471.5,252.5 472.5,250.5 472.5,252.5 472.5,251.5 472.5,254.5 472.5,252.5 472.5,257.5 473.5,258.5 473.5,257.5 473.5,256.5 473.5,257.5 473.5,258.5 474.5,256.5 474.5,254.5 474.5,252.5 474.5,253.5 474.5,254.5 475.5,253.5 475.5,255.5 475.5,254.5 475.5,252.5 475.5,252.5 475.5,251.5 476.5,253.5 476.5,251.5 476.5,253.5 476.5,250.5 476.5,252.5 477.5,255.5 477.5,255.5 477.5,255.5 477.5,260.5 477.5,259.5 477.5,256.5 478.5,257.5 478.5,257.5 478.5,259.5 478.5,253.5 478.5,254.5 479.5,255.5 479.5,258.5 479.5,255.5 479.5,254.5 479.5,257.5 480.5,258.5 480.5,260.5 480.5,261.5 480.5,265.5 480.5,267.5 480.5,270.5 481.5,271.5 481.5,266.5 481.5,264.5 481.5,266.5 481.5,265.5 482.5,269.5 482.5,269.5 482.5,269.5 482.5,269.5 482.5,264.5 483.5,265.5 483.5,262.5 483.5,260.5 483.5,260.5 483.5,258.5 483.5,264.5 484.5,260.5 484.5,262.5 484.5,263.5 484.5,262.5 484.5,261.5 485.5,266.5 485.5,266.5 485.5,267.5 485.5,267.5 485.5,267.5 486.5,266.5 486.5,263.5 486.5,265.5 486.5,263.5 486.5,264.5 486.5,266.5 487.5,266.5 487.5,267.5 487.5,268.5 487.5,266.5 487.5,267.5 488.5,266.5 488.5,269.5 488.5,265.5 488.5,268.5 488.5,267.5 489.5,265.5 489.5,264.5 489.5,267.5 489.5,268.5 489.5,265.5 489.5,266.5 490.5,264.5 490.5,266.5 490.5,263.5 490.5,262.5 490.5,266.5 491.5,265.5 491.5,265.5 491.5,265.5 491.5,271.5 491.5,270.5 492.5,273.5 492.5,274.5 492.5,272.5 492.5,275.5 492.5,274.5 492.5,274.5 493.5,273.5 493.5,279.5 493.5,291.5 493.5,306.5 493.5,324.5 494.5,338.5 494.5,326.5 494.5,310.5 494.5,291.5 494.5,286.5 495.5,334.5 495.5,276.5 495.5,275.5 495.5,271.5 495.5,272.5 496.5,271.5 496.5,273.5 496.5,273.5 496.5,270.5 496.5,270.5 496.5,269.5 497.5,267.5 497.5,269.5 497.5,268.5 497.5,266.5 497.5,268.5 498.5,267.5 498.5,270.5 498.5,267.5 498.5,268.5 498.5,265.5 499.5,266.5 499.5,267.5 499.5,267.5 499.5,270.5 499.5,273.5 500.5,271.5 500.5,273.5 500.5,272.5 500.5,273.5 500.5,272.5 500.5,274.5 501.5,275.5 501.5,275.5 501.5,270.5 501.5,272.5 501.5,270.5 502.5,269.5 502.5,266.5 502.5,266.5 502.5,267.5 502.5,265.5 503.5,266.5 503.5,265.5 503.5,265.5 503.5,266.5 503.5,265.5 504.5,266.5 504.5,265.5 504.5,266.5 504.5,268.5 504.5,268.5 504.5,270.5 505.5,270.5 505.5,271.5 505.5,272.5 505.5,271.5 505.5,271.5 506.5,271.5 506.5,272.5 506.5,273.5 506.5,273.5 506.5,272.5 507.5,274.5 507.5,272.5 507.5,269.5 507.5,270.5 507.5,273.5 508.5,270.5 508.5,270.5 508.5,272.5 508.5,268.5 508.5,271.5 509.5,273.5 509.5,275.5 509.5,274.5 509.5,274.5 509.5,273.5 510.5,274.5 510.5,272.5 510.5,271.5 510.5,271.5 510.5,273.5 510.5,271.5 511.5,272.5 511.5,272.5 511.5,272.5 511.5,274.5 511.5,271.5 512.5,272.5 512.5,275.5 512.5,274.5 512.5,276.5 512.5,276.5 513.5,274.5 513.5,274.5 513.5,272.5 513.5,274.5 513.5,277.5 514.5,276.5 514.5,280.5 514.5,276.5 514.5,278.5 514.5,277.5 515.5,275.5 515.5,275.5 515.5,272.5 515.5,272.5 515.5,271.5 516.5,271.5 516.5,273.5 516.5,271.5 516.5,275.5 516.5,274.5 516.5,275.5 517.5,276.5 517.5,274.5 517.5,274.5 517.5,274.5 517.5,273.5 518.5,273.5 518.5,272.5 518.5,273.5 518.5,273.5 518.5,271.5 519.5,273.5 519.5,272.5 519.5,271.5 519.5,272.5 519.5,273.5 520.5,273.5 520.5,274.5 520.5,275.5 520.5,278.5 520.5,276.5 521.5,276.5 521.5,277.5 521.5,278.5 521.5,278.5 521.5,276.5 522.5,277.5 522.5,279.5 522.5,281.5 522.5,279.5 522.5,281.5 523.5,279.5 523.5,282.5 523.5,281.5 523.5,282.5 523.5,281.5 524.5,283.5 524.5,281.5 524.5,283.5 524.5,284.5 524.5,283.5 525.5,283.5 525.5,285.5 525.5,282.5 525.5,281.5 525.5,280.5 525.5,278.5 526.5,281.5 526.5,281.5 526.5,283.5 526.5,283.5 526.5,281.5 527.5,280.5 527.5,279.5 527.5,277.5 527.5,276.5 527.5,276.5 528.5,278.5 528.5,278.5 528.5,280.5 528.5,280.5 528.5,280.5 529.5,282.5 529.5,285.5 529.5,282.5 529.5,278.5 529.5,280.5 530.5,279.5 530.5,277.5 530.5,274.5 530.5,275.5 530.5,276.5 531.5,279.5 531.5,280.5 531.5,282.5 531.5,282.5 531.5,281.5 532.5,281.5 532.5,283.5 532.5,282.5 532.5,282.5 532.5,280.5 533.5,281.5 533.5,281.5 533.5,282.5 533.5,284.5 533.5,285.5 534.5,281.5 534.5,283.5 534.5,280.5 534.5,284.5 534.5,283.5 535.5,283.5 535.5,283.5 535.5,283.5 535.5,284.5 535.5,283.5 536.5,284.5 536.5,282.5 536.5,283.5 536.5,282.5 536.5,281.5 537.5,280.5 537.5,275.5 537.5,279.5 537.5,277.5 537.5,276.5 538.5,276.5 538.5,275.5 538.5,279.5 538.5,278.5 538.5,281.5 539.5,281.5 539.5,283.5 539.5,285.5 539.5,287.5 539.5,289.5 540.5,289.5 540.5,287.5 540.5,287.5 540.5,285.5 540.5,287.5 541.5,284.5 541.5,284.5 541.5,287.5 541.5,285.5 541.5,283.5 542.5,286.5 542.5,285.5 542.5,286.5 542.5,285.5 542.5,286.5 543.5,286.5 543.5,285.5 543.5,285.5 543.5,284.5 543.5,284.5 544.5,281.5 544.5,283.5 544.5,285.5 544.5,286.5 544.5,286.5 545.5,290.5 545.5,288.5 545.5,289.5 545.5,289.5 545.5,290.5 546.5,291.5 546.5,289.5 546.5,289.5 546.5,288.5 546.5,289.5 547.5,289.5 547.5,289.5 547.5,287.5 547.5,286.5 547.5,284.5 548.5,285.5 548.5,284.5 548.5,285.5 548.5,288.5 548.5,289.5 549.5,289.5 549.5,288.5 549.5,289.5 549.5,287.5 549.5,287.5 550.5,287.5 550.5,289.5 550.5,289.5 550.5,288.5 550.5,288.5 551.5,286.5 551.5,287.5 551.5,285.5 551.5,289.5 551.5,286.5 552.5,286.5 552.5,287.5 552.5,287.5 552.5,287.5 552.5,286.5 553.5,286.5 553.5,288.5 553.5,286.5 553.5,290.5 554.5,291.5 554.5,293.5 554.5,298.5 554.5,298.5 554.5,300.5 555.5,298.5 555.5,298.5 555.5,296.5 555.5,294.5 555.5,291.5 556.5,289.5 556.5,289.5 556.5,291.5 556.5,290.5 556.5,292.5 557.5,293.5 557.5,292.5 557.5,293.5 557.5,293.5 557.5,288.5 558.5,286.5 558.5,285.5 558.5,284.5 558.5,286.5 558.5,287.5 559.5,288.5 559.5,286.5 559.5,291.5 559.5,289.5 559.5,289.5 560.5,288.5 560.5,290.5 560.5,290.5 560.5,289.5 560.5,291.5 561.5,290.5 561.5,290.5 561.5,289.5 561.5,290.5 561.5,289.5 562.5,288.5 562.5,288.5 562.5,286.5 562.5,286.5 562.5,286.5 563.5,286.5 563.5,285.5 563.5,287.5 563.5,286.5 564.5,287.5 564.5,287.5 564.5,286.5 564.5,287.5 564.5,289.5 565.5,287.5 565.5,287.5 565.5,288.5 565.5,286.5 565.5,286.5 566.5,284.5 566.5,283.5 566.5,284.5 566.5,283.5 566.5,285.5 567.5,287.5 567.5,287.5 567.5,289.5 567.5,290.5 567.5,291.5 568.5,291.5 568.5,293.5 568.5,291.5 568.5,292.5 568.5,293.5 569.5,292.5 569.5,291.5 569.5,293.5 569.5,290.5 569.5,294.5 570.5,294.5 570.5,297.5 570.5,294.5 570.5,293.5 571.5,292.5 571.5,292.5 571.5,293.5 571.5,292.5 571.5,295.5 572.5,296.5 572.5,295.5 572.5,298.5 572.5,294.5 572.5,292.5 573.5,293.5 573.5,293.5 573.5,294.5 573.5,292.5 573.5,292.5 574.5,292.5 574.5,290.5 574.5,289.5 574.5,289.5 574.5,291.5 575.5,289.5 575.5,289.5 575.5,291.5 575.5,293.5 576.5,292.5 576.5,292.5 576.5,292.5 576.5,294.5 576.5,294.5 577.5,294.5 577.5,295.5 577.5,294.5 577.5,295.5 577.5,296.5 578.5,294.5 578.5,293.5 578.5,291.5 578.5,295.5 578.5,294.5 579.5,294.5 579.5,294.5 579.5,295.5 579.5,295.5 579.5,294.5 580.5,296.5 580.5,295.5 580.5,294.5 580.5,295.5 581.5,298.5 581.5,295.5 581.5,297.5 581.5,296.5 581.5,295.5 582.5,294.5 582.5,294.5 582.5,293.5 582.5,296.5 582.5,298.5 583.5,299.5 583.5,300.5 583.5,302.5 583.5,298.5 583.5,298.5 584.5,296.5 584.5,294.5 584.5,295.5 584.5,296.5 585.5,297.5 585.5,297.5 585.5,298.5 585.5,297.5 585.5,297.5 586.5,299.5 586.5,297.5 586.5,296.5 586.5,297.5 586.5,296.5 587.5,298.5 587.5,298.5 587.5,297.5 587.5,297.5 587.5,298.5 588.5,295.5 588.5,296.5 588.5,297.5 588.5,296.5 589.5,297.5 589.5,297.5 589.5,297.5 589.5,301.5 589.5,303.5 590.5,302.5 590.5,303.5 590.5,306.5 590.5,305.5 590.5,303.5 591.5,299.5 591.5,297.5 591.5,296.5 591.5,294.5 591.5,296.5 592.5,297.5 592.5,300.5 592.5,298.5 592.5,300.5 593.5,301.5 593.5,304.5 593.5,303.5 593.5,305.5 593.5,305.5 594.5,305.5 594.5,305.5 594.5,304.5 594.5,304.5 594.5,302.5 595.5,302.5 595.5,303.5 595.5,303.5 595.5,302.5 596.5,305.5 596.5,305.5 596.5,305.5 596.5,304.5 596.5,302.5 597.5,304.5 597.5,305.5 597.5,307.5 597.5,306.5 597.5,306.5 598.5,307.5 598.5,307.5 598.5,308.5 598.5,308.5 599.5,309.5 599.5,311.5 599.5,311.5 599.5,311.5 599.5,311.5 600.5,310.5 600.5,309.5 600.5,308.5 600.5,309.5 600.5,307.5 601.5,307.5 601.5,304.5 601.5,303.5 601.5,303.5 602.5,302.5 602.5,304.5 602.5,301.5 602.5,304.5 602.5,305.5 603.5,303.5 603.5,307.5 603.5,306.5 603.5,305.5 603.5,305.5 604.5,304.5 604.5,304.5 604.5,304.5 604.5,306.5 605.5,305.5 605.5,305.5 605.5,303.5 605.5,302.5 605.5,306.5 606.5,306.5 606.5,308.5 606.5,311.5 606.5,312.5 606.5,307.5 607.5,307.5 607.5,306.5 607.5,307.5 607.5,308.5 608.5,310.5 608.5,311.5 608.5,313.5 608.5,312.5 608.5,310.5 609.5,310.5 609.5,309.5 609.5,309.5 609.5,311.5 609.5,312.5 610.5,311.5 610.5,314.5 610.5,313.5 610.5,315.5 611.5,313.5 611.5,313.5 611.5,313.5 611.5,313.5 611.5,311.5 612.5,311.5 612.5,311.5 612.5,312.5 612.5,311.5 613.5,312.5 613.5,313.5 613.5,312.5 613.5,314.5 613.5,315.5 614.5,313.5 614.5,313.5 614.5,310.5 614.5,310.5 614.5,308.5 615.5,307.5 615.5,307.5 615.5,308.5 615.5,309.5 616.5,310.5 616.5,312.5 616.5,312.5 616.5,313.5 616.5,310.5 617.5,311.5 617.5,308.5 617.5,310.5 617.5,309.5 618.5,309.5 618.5,313.5 618.5,311.5 618.5,314.5 618.5,313.5 619.5,311.5 619.5,311.5 619.5,309.5 619.5,309.5 619.5,313.5 620.5,312.5 620.5,312.5 620.5,311.5 620.5,312.5 621.5,311.5 621.5,309.5 621.5,309.5 621.5,307.5 621.5,309.5 622.5,307.5 622.5,307.5 622.5,311.5 622.5,313.5 623.5,312.5 623.5,309.5 623.5,310.5 623.5,309.5 623.5,313.5 624.5,314.5 624.5,315.5 624.5,315.5 624.5,317.5 625.5,307.5 625.5,317.5 625.5,318.5 625.5,318.5 625.5,319.5 626.5,320.5 626.5,322.5 626.5,329.5 626.5,330.5 626.5,331.5 627.5,331.5 627.5,330.5 627.5,327.5 627.5,322.5 628.5,322.5 628.5,322.5 628.5,321.5 628.5,322.5 628.5,321.5 629.5,319.5 629.5,322.5 629.5,319.5 629.5,320.5 630.5,319.5 630.5,318.5 630.5,317.5 630.5,317.5 630.5,318.5 631.5,320.5 631.5,318.5 631.5,320.5 631.5,322.5 632.5,321.5 632.5,322.5 632.5,323.5 632.5,323.5 632.5,322.5 633.5,319.5 633.5,320.5 633.5,320.5 633.5,318.5 634.5,317.5 634.5,318.5 634.5,319.5 634.5,318.5 634.5,317.5 635.5,317.5 635.5,316.5 635.5,318.5 635.5,318.5 636.5,318.5 636.5,319.5 636.5,318.5 636.5,319.5 636.5,320.5 637.5,320.5 637.5,319.5 637.5,319.5 637.5,318.5 638.5,317.5 638.5,315.5 638.5,318.5 638.5,317.5 638.5,316.5 639.5,317.5 639.5,316.5 639.5,315.5 639.5,316.5 640.5,313.5 640.5,315.5 640.5,317.5 640.5,318.5 640.5,319.5 641.5,320.5 641.5,321.5 641.5,319.5 641.5,319.5 642.5,316.5 642.5,314.5 642.5,313.5 642.5,312.5 642.5,313.5 643.5,311.5 643.5,316.5 643.5,316.5 643.5,318.5 644.5,319.5 644.5,318.5 644.5,318.5 644.5,318.5 644.5,318.5 645.5,319.5 645.5,320.5 645.5,320.5 645.5,321.5 646.5,318.5 646.5,317.5 646.5,318.5 646.5,318.5 647.5,317.5 647.5,316.5 647.5,319.5 647.5,320.5 647.5,320.5 648.5,323.5 648.5,322.5 648.5,321.5 648.5,320.5 649.5,321.5 649.5,318.5 649.5,316.5 649.5,319.5 649.5,317.5 650.5,319.5 650.5,319.5 650.5,319.5 650.5,322.5 651.5,321.5 651.5,322.5 651.5,321.5 651.5,319.5 651.5,321.5 652.5,321.5 652.5,324.5 652.5,324.5 652.5,325.5 653.5,326.5 653.5,326.5 653.5,325.5 653.5,326.5 654.5,325.5 654.5,326.5 654.5,323.5 654.5,322.5 654.5,323.5 655.5,320.5 655.5,320.5 655.5,318.5 655.5,318.5 656.5,319.5 656.5,318.5 656.5,321.5 656.5,321.5 656.5,320.5 657.5,320.5 657.5,321.5 657.5,320.5 657.5,321.5 658.5,321.5 658.5,322.5 658.5,319.5 658.5,318.5 658.5,319.5 659.5,321.5 659.5,322.5 659.5,325.5 659.5,325.5 660.5,328.5 660.5,329.5 660.5,328.5 660.5,328.5 661.5,327.5 661.5,324.5 661.5,325.5 661.5,323.5 661.5,322.5 662.5,322.5 662.5,325.5 662.5,326.5 662.5,323.5 663.5,325.5 663.5,324.5 663.5,322.5 663.5,318.5 664.5,320.5 664.5,320.5 664.5,321.5 664.5,321.5 664.5,324.5 665.5,323.5 665.5,323.5 665.5,323.5 665.5,326.5 666.5,327.5 666.5,329.5 666.5,329.5 666.5,329.5 666.5,330.5 667.5,328.5 667.5,330.5 667.5,328.5 667.5,329.5 668.5,328.5 668.5,326.5 668.5,325.5 668.5,326.5 669.5,326.5 669.5,326.5 669.5,325.5 669.5,327.5 669.5,325.5 670.5,325.5 670.5,326.5 670.5,327.5 670.5,327.5 671.5,329.5 671.5,330.5 671.5,327.5 671.5,325.5 672.5,325.5 672.5,326.5 672.5,329.5 672.5,327.5 672.5,326.5 673.5,327.5 673.5,324.5 673.5,326.5 673.5,324.5 674.5,325.5 674.5,326.5 674.5,329.5 674.5,327.5 675.5,327.5 675.5,327.5 675.5,328.5 675.5,328.5 675.5,330.5 676.5,330.5 676.5,331.5 676.5,332.5 676.5,331.5 677.5,331.5 677.5,329.5 677.5,330.5 677.5,328.5 678.5,327.5 678.5,329.5 678.5,328.5 678.5,331.5 678.5,330.5 679.5,330.5 679.5,329.5 679.5,329.5 679.5,327.5 680.5,334.5 680.5,333.5 680.5,333.5 680.5,332.5 681.5,332.5 681.5,331.5 681.5,332.5 681.5,331.5 682.5,331.5 682.5,327.5 682.5,327.5 682.5,321.5 682.5,322.5 683.5,323.5 683.5,323.5 683.5,326.5 683.5,331.5 684.5,334.5 684.5,331.5 684.5,333.5 684.5,330.5 685.5,328.5 685.5,330.5 685.5,327.5 685.5,327.5 685.5,327.5 686.5,329.5 686.5,329.5 686.5,329.5 686.5,330.5 687.5,327.5 687.5,327.5 687.5,326.5 687.5,327.5 688.5,327.5 688.5,330.5 688.5,331.5 688.5,330.5 689.5,332.5 689.5,332.5 689.5,333.5 689.5,336.5 689.5,335.5 690.5,335.5 690.5,335.5 690.5,335.5 690.5,331.5 691.5,331.5 691.5,332.5 691.5,331.5 691.5,332.5 692.5,333.5 692.5,335.5 692.5,336.5 692.5,336.5 693.5,337.5 693.5,338.5 693.5,337.5 693.5,337.5 693.5,339.5 694.5,337.5 694.5,335.5 694.5,333.5 694.5,332.5 695.5,334.5 695.5,336.5 695.5,333.5 695.5,336.5 696.5,335.5 696.5,336.5 696.5,338.5 696.5,334.5 697.5,333.5 697.5,331.5 697.5,331.5 697.5,333.5 697.5,333.5 698.5,333.5 698.5,336.5 698.5,335.5 698.5,334.5 699.5,336.5 699.5,335.5 699.5,335.5 699.5,335.5 700.5,336.5 700.5,337.5 700.5,336.5 700.5,337.5 701.5,336.5 701.5,336.5 701.5,337.5 701.5,336.5 701.5,335.5 702.5,338.5 702.5,337.5 702.5,340.5 702.5,341.5 703.5,342.5 703.5,341.5 703.5,342.5 703.5,341.5 704.5,341.5 704.5,340.5 704.5,339.5 704.5,338.5 705.5,336.5 705.5,333.5 705.5,332.5 705.5,335.5 706.5,335.5 706.5,338.5 706.5,340.5 706.5,341.5 706.5,342.5 707.5,343.5 707.5,342.5 707.5,341.5 707.5,341.5 708.5,339.5 708.5,338.5 708.5,340.5 708.5,339.5 709.5,340.5 709.5,341.5 709.5,338.5 709.5,338.5 710.5,337.5 710.5,337.5 710.5,339.5 710.5,338.5 711.5,338.5 711.5,339.5 711.5,339.5 711.5,340.5 712.5,339.5 712.5,342.5 712.5,344.5 712.5,342.5 712.5,342.5 713.5,342.5 713.5,343.5 713.5,341.5 713.5,340.5 714.5,338.5 714.5,339.5 714.5,339.5 714.5,337.5 715.5,340.5 715.5,341.5 715.5,340.5 715.5,342.5 716.5,346.5 716.5,343.5 716.5,346.5 716.5,344.5 717.5,343.5 717.5,339.5 717.5,341.5 717.5,340.5 718.5,341.5 718.5,341.5 718.5,342.5 718.5,340.5 718.5,339.5 719.5,339.5 719.5,337.5 719.5,335.5 719.5,336.5 720.5,337.5 720.5,337.5 720.5,339.5 720.5,337.5 721.5,337.5 721.5,338.5 721.5,339.5 721.5,341.5 722.5,343.5 722.5,343.5 722.5,342.5 722.5,345.5 723.5,340.5 723.5,340.5 723.5,340.5 723.5,341.5 724.5,342.5 724.5,343.5 724.5,342.5 724.5,342.5 725.5,340.5 725.5,341.5 725.5,343.5 725.5,341.5 725.5,341.5 726.5,340.5 726.5,342.5 726.5,340.5 726.5,339.5 727.5,339.5 727.5,338.5 727.5,335.5 727.5,339.5 728.5,337.5 728.5,339.5 728.5,340.5 728.5,337.5 729.5,338.5 729.5,337.5 729.5,341.5 729.5,340.5 730.5,342.5 730.5,341.5 730.5,343.5 730.5,343.5 731.5,344.5 731.5,343.5 731.5,343.5 731.5,343.5 732.5,340.5 732.5,342.5 732.5,341.5 732.5,341.5 733.5,343.5 733.5,344.5 733.5,344.5 733.5,342.5 734.5,341.5 734.5,339.5 734.5,337.5 734.5,337.5 735.5,337.5 735.5,338.5 735.5,338.5 735.5,337.5 736.5,340.5 736.5,341.5 736.5,344.5 736.5,345.5 736.5,343.5 737.5,341.5 737.5,339.5 737.5,342.5 737.5,340.5 738.5,340.5 738.5,341.5 738.5,343.5 738.5,341.5 739.5,342.5 739.5,341.5 739.5,345.5 739.5,346.5 740.5,347.5 740.5,347.5 740.5,350.5 740.5,346.5 741.5,346.5 741.5,347.5 741.5,350.5 741.5,356.5 742.5,365.5 742.5,364.5 742.5,360.5 742.5,353.5 743.5,350.5 743.5,349.5 743.5,349.5 743.5,349.5 744.5,350.5 744.5,351.5 744.5,350.5 744.5,350.5 745.5,350.5 745.5,353.5 745.5,349.5 745.5,346.5 746.5,343.5 746.5,343.5 746.5,344.5 746.5,344.5 747.5,344.5 747.5,343.5 747.5,345.5 747.5,346.5 748.5,344.5 748.5,345.5 748.5,350.5 748.5,351.5 749.5,352.5 749.5,354.5 749.5,355.5 749.5,350.5 750.5,346.5 750.5,345.5 750.5,347.5 750.5,345.5 751.5,345.5 751.5,346.5 751.5,348.5 751.5,346.5 752.5,349.5 752.5,351.5 752.5,350.5 752.5,351.5 753.5,347.5 753.5,345.5 753.5,342.5 753.5,343.5 754.5,342.5 754.5,341.5 754.5,341.5 754.5,342.5 755.5,340.5 755.5,342.5 755.5,343.5 755.5,344.5 756.5,346.5 756.5,345.5 756.5,344.5 756.5,347.5 757.5,355.5 757.5,368.5 757.5,361.5 757.5,351.5 758.5,346.5 758.5,346.5 758.5,347.5 758.5,346.5 759.5,346.5 759.5,346.5 759.5,346.5 759.5,345.5 760.5,344.5 760.5,344.5 760.5,346.5 760.5,345.5 761.5,342.5 761.5,344.5 761.5,345.5 761.5,342.5 762.5,347.5 762.5,350.5 762.5,350.5 762.5,352.5 763.5,351.5 763.5,349.5 763.5,351.5 763.5,352.5 764.5,351.5 764.5,352.5 764.5,355.5 764.5,355.5 765.5,354.5 765.5,355.5 765.5,354.5 765.5,355.5 766.5,355.5 766.5,355.5 766.5,355.5 766.5,354.5 767.5,357.5 767.5,356.5 767.5,354.5 767.5,357.5 768.5,364.5 768.5,365.5 768.5,368.5 768.5,364.5 769.5,358.5 769.5,357.5 769.5,356.5 769.5,356.5 770.5,353.5 770.5,353.5 770.5,353.5 770.5,353.5 771.5,354.5 771.5,353.5 771.5,353.5 771.5,352.5 772.5,353.5 772.5,354.5 772.5,356.5 772.5,354.5 773.5,355.5 773.5,353.5 773.5,356.5 773.5,355.5 774.5,353.5 774.5,354.5 774.5,354.5 774.5,353.5 775.5,354.5 775.5,352.5 775.5,354.5 775.5,352.5 776.5,348.5 776.5,349.5 776.5,347.5 776.5,348.5 777.5,346.5 777.5,349.5 777.5,350.5 778.5,349.5 778.5,349.5 778.5,349.5 778.5,348.5 779.5,349.5 779.5,350.5 779.5,353.5 779.5,355.5 780.5,355.5 780.5,355.5 780.5,355.5 780.5,353.5 781.5,352.5 781.5,349.5 781.5,348.5 781.5,349.5 782.5,351.5 782.5,364.5 782.5,357.5 782.5,357.5 783.5,355.5 783.5,353.5 783.5,355.5 783.5,353.5 784.5,355.5 784.5,356.5 784.5,354.5 784.5,353.5 785.5,352.5 785.5,351.5 785.5,350.5 785.5,350.5 786.5,351.5 786.5,353.5 786.5,351.5 786.5,352.5 787.5,356.5 787.5,355.5 787.5,355.5 787.5,357.5 788.5,356.5 788.5,358.5 788.5,359.5 789.5,361.5 789.5,362.5 789.5,360.5 789.5,359.5 790.5,359.5 790.5,359.5 790.5,358.5 790.5,356.5 791.5,354.5 791.5,355.5 791.5,354.5 791.5,353.5 792.5,352.5 792.5,351.5 792.5,354.5 792.5,353.5 793.5,355.5 793.5,353.5 793.5,355.5 793.5,355.5 794.5,358.5 794.5,359.5 794.5,361.5 794.5,359.5 795.5,357.5 795.5,361.5 795.5,355.5 795.5,357.5 796.5,355.5 796.5,356.5 796.5,355.5 797.5,354.5 797.5,355.5 797.5,353.5 797.5,355.5 798.5,353.5 798.5,354.5 798.5,354.5 798.5,354.5 799.5,354.5 799.5,473.5" fill="none" stroke="#000" stroke-width="1" stroke-linejoin="miter" shape-rendering="crispEdges"/></g>
<g filter="url(#t2)">
<text class="lb" x="138.4" y="95.6">OII</text>
<text class="lb" x="138.7" y="78.3">OII</text>
<text class="lb" x="147.4" y="61.0">Hθ</text>
<text class="lb" x="152.0" y="95.6">Hη</text>
<text class="lb" x="158.8" y="78.3">HeI</text>
<text class="lb" x="164.4" y="61.0">K</text>
<text class="lb" x="168.7" y="95.6">H</text>
<text class="lb" x="181.8" y="78.3">SII</text>
<text class="lb" x="185.5" y="61.0">Hδ</text>
<text class="lb" x="211.0" y="95.6">G</text>
<text class="lb" x="215.4" y="78.3">Hγ</text>
<text class="lb" x="218.2" y="61.0">OIII</text>
<text class="lb" x="280.7" y="95.6">Hβ</text>
<text class="lb" x="293.0" y="78.3">OIII</text>
<text class="lb" x="299.0" y="61.0">OIII</text>
<text class="lb" x="320.1" y="95.6">Mg</text>
<text class="lb" x="410.1" y="78.3">Na</text>
<text class="lb" x="461.1" y="61.0">OI</text>
<text class="lb" x="469.2" y="95.6">OI</text>
<text class="lb" x="492.2" y="78.3">NII</text>
<text class="lb" x="494.1" y="61.0">Hα</text>
<text class="lb" x="496.6" y="95.6">NII</text>
<text class="lb" x="512.2" y="78.3">Li</text>
<text class="lb" x="513.3" y="61.0">SII</text>
<text class="lb" x="515.2" y="95.6">SII</text>
<text class="lb" x="736.8" y="78.3">CaII</text>
<text class="lb" x="742.3" y="61.0">CaII</text>
<text class="lb" x="757.3" y="95.6">CaII</text>
</g>
<path d="M138.5 44V474M138.5 44V474M147.5 44V474M152.5 44V474M158.5 44V474M164.5 44V474M168.5 44V474M181.5 44V474M185.5 44V474M210.5 44V474M215.5 44V474M218.5 44V474M280.5 44V474M292.5 44V474M299.5 44V474M320.5 44V474M410.5 44V474M461.5 44V474M469.5 44V474M492.5 44V474M494.5 44V474M496.5 44V474M512.5 44V474M513.5 44V474M515.5 44V474M736.5 44V474M742.5 44V474M757.5 44V474" fill="none" stroke="#a81a12" stroke-width="1" stroke-dasharray="2 2" shape-rendering="crispEdges"/><g filter="url(#t1)">
<text class="se" y="32.2" font-size="24.7"><tspan x="124.11" textLength="62.41" lengthAdjust="spacingAndGlyphs">spec</tspan><tspan x="186.61" textLength="21.41" lengthAdjust="spacingAndGlyphs">-</tspan><tspan x="207.44" textLength="83.47" lengthAdjust="spacingAndGlyphs">56686</tspan><tspan x="290.96" textLength="21.81" lengthAdjust="spacingAndGlyphs">-</tspan><tspan x="312.78" textLength="37.17" lengthAdjust="spacingAndGlyphs">HD</tspan><tspan x="351.61" textLength="99.38" lengthAdjust="spacingAndGlyphs">091850</tspan><tspan x="449.61" textLength="20.06" lengthAdjust="spacingAndGlyphs">N</tspan><tspan x="469.33" textLength="100.38" lengthAdjust="spacingAndGlyphs">364809</tspan><tspan x="569.13" textLength="16.95" lengthAdjust="spacingAndGlyphs">B</tspan><tspan x="587.04" textLength="32.54" lengthAdjust="spacingAndGlyphs">01</tspan><tspan x="620.00" textLength="10.00" lengthAdjust="spacingAndGlyphs">_</tspan><tspan x="629.85" textLength="30.50" lengthAdjust="spacingAndGlyphs">sp</tspan><tspan x="662.48" textLength="29.94" lengthAdjust="spacingAndGlyphs">14</tspan><tspan x="694.04" textLength="21.14" lengthAdjust="spacingAndGlyphs">-</tspan><tspan x="714.94" textLength="51.54" lengthAdjust="spacingAndGlyphs">048</tspan><tspan x="764.51" textLength="9.60" lengthAdjust="spacingAndGlyphs">.</tspan><tspan x="772.97" textLength="46.48" lengthAdjust="spacingAndGlyphs">fits</tspan></text>
<text class="tk" y="473.8"><tspan x="113.76" textLength="15.58" lengthAdjust="spacingAndGlyphs">0</tspan></text>
<text class="tk" y="418.6"><tspan x="100.51" textLength="28.62" lengthAdjust="spacingAndGlyphs">50</tspan></text>
<text class="tk" y="355.6"><tspan x="89.79" textLength="39.18" lengthAdjust="spacingAndGlyphs">100</tspan></text>
<text class="tk" y="292.7"><tspan x="89.79" textLength="39.18" lengthAdjust="spacingAndGlyphs">150</tspan></text>
<text class="tk" y="229.7"><tspan x="88.15" textLength="40.90" lengthAdjust="spacingAndGlyphs">200</tspan></text>
<text class="tk" y="166.8"><tspan x="88.15" textLength="40.90" lengthAdjust="spacingAndGlyphs">250</tspan></text>
<text class="tk" y="103.9"><tspan x="88.09" textLength="40.97" lengthAdjust="spacingAndGlyphs">300</tspan></text>
<text class="tk" y="503.8"><tspan x="146.01" textLength="52.86" lengthAdjust="spacingAndGlyphs">4000</tspan></text>
<text class="tk" y="503.8"><tspan x="269.21" textLength="54.62" lengthAdjust="spacingAndGlyphs">5000</tspan></text>
<text class="tk" y="503.8"><tspan x="395.46" textLength="54.57" lengthAdjust="spacingAndGlyphs">6000</tspan></text>
<text class="tk" y="503.8"><tspan x="521.30" textLength="54.22" lengthAdjust="spacingAndGlyphs">7000</tspan></text>
<text class="tk" y="503.8"><tspan x="645.52" textLength="54.51" lengthAdjust="spacingAndGlyphs">8000</tspan></text>
<text class="tk" y="503.8"><tspan x="771.46" textLength="54.78" lengthAdjust="spacingAndGlyphs">9000</tspan></text>
<text class="se" y="529.4" font-size="19.2"><tspan x="390.35" textLength="122.38" lengthAdjust="spacingAndGlyphs">Wavelength</tspan> <tspan x="524.94" textLength="8.85" lengthAdjust="spacingAndGlyphs" font-size="26.6" dy="1.45">(</tspan><tspan x="533.48" textLength="15.32" lengthAdjust="spacingAndGlyphs" class="tk" font-size="20" dy="-1.45">Å</tspan><tspan x="547.31" textLength="8.85" lengthAdjust="spacingAndGlyphs" font-size="26.6" dy="1.45">)</tspan></text>
<g transform="translate(70.7 340.4) rotate(-90)"><text class="se" y="0" font-size="19.2"><tspan x="-1.17" textLength="47.22" lengthAdjust="spacingAndGlyphs">Flux</tspan> <tspan x="57.69" textLength="10.14" lengthAdjust="spacingAndGlyphs" font-size="26.6" dy="2.75">(</tspan><tspan x="68.65" textLength="83.32" lengthAdjust="spacingAndGlyphs" dy="-2.75">relative</tspan><tspan x="150.78" textLength="12.39" lengthAdjust="spacingAndGlyphs" font-size="26.6" dy="2.75">)</tspan></text></g>
<text class="se" y="560" font-size="25.2"><tspan x="133.64" textLength="65.76" lengthAdjust="spacingAndGlyphs">STAR</tspan> <tspan x="240.42" textLength="33.42" lengthAdjust="spacingAndGlyphs">F0</tspan></text>
<text class="se" y="589.6" font-size="18.3"><tspan x="134.68" textLength="20.98" lengthAdjust="spacingAndGlyphs">cz</tspan> <tspan x="165.59" textLength="17.63" lengthAdjust="spacingAndGlyphs">=</tspan> <tspan x="192.06" textLength="41.57" lengthAdjust="spacingAndGlyphs">16.5</tspan> <tspan x="242.53" textLength="14.96" lengthAdjust="spacingAndGlyphs">±</tspan> <tspan x="265.22" textLength="44.00" lengthAdjust="spacingAndGlyphs">33.7</tspan> <tspan x="317.76" textLength="55.64" lengthAdjust="spacingAndGlyphs">km/s</tspan></text>
<text class="se" y="619.0" font-size="18.3"><tspan x="134.70" textLength="24.04" lengthAdjust="spacingAndGlyphs">RA</tspan> <tspan x="168.24" textLength="17.23" lengthAdjust="spacingAndGlyphs">=</tspan> <tspan x="194.32" textLength="108.59" lengthAdjust="spacingAndGlyphs">136.94705,</tspan> <tspan x="311.51" textLength="37.26" lengthAdjust="spacingAndGlyphs">DEC</tspan> <tspan x="357.49" textLength="16.82" lengthAdjust="spacingAndGlyphs">=</tspan>  <tspan x="392.38" textLength="90.07" lengthAdjust="spacingAndGlyphs">36.70117</tspan></text>
<text class="se" y="560" font-size="25.2"><tspan x="607.01" textLength="99.20" lengthAdjust="spacingAndGlyphs">LAMOST</tspan> <tspan x="723.15" textLength="53.64" lengthAdjust="spacingAndGlyphs">DR3</tspan></text>
<text class="se" y="589.4" font-size="18.3"><tspan x="607.24" textLength="34.55" lengthAdjust="spacingAndGlyphs">Obs</tspan><tspan x="641.08" textLength="20.07" lengthAdjust="spacingAndGlyphs">-</tspan><tspan x="660.33" textLength="48.26" lengthAdjust="spacingAndGlyphs">Date:</tspan> <tspan x="718.32" textLength="96.31" lengthAdjust="spacingAndGlyphs">20140128</tspan></text>
</g>
</svg></body></html>
